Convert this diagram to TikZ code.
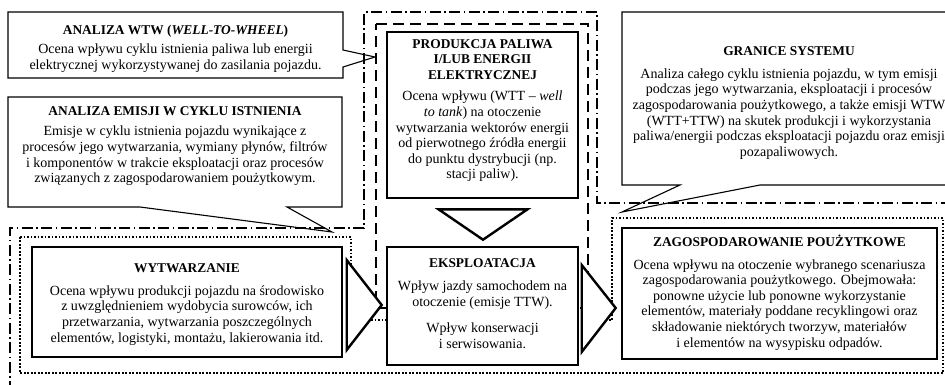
\documentclass[tikz,border=0pt]{standalone}
\usepackage{fontspec}
\setmainfont{Liberation Serif}
\usetikzlibrary{calc}

\newcommand{\bodyfont}{\fontsize{14.0}{15.6}\selectfont}
\newcommand{\ttl}[1]{{\fontsize{13.4}{15.6}\selectfont\bfseries #1}}

\tikzset{
  mainbox/.style={draw, line width=2.6pt, fill=white, inner sep=0pt},
  callout/.style={draw, line width=1.1pt, line join=miter},
  txt/.style={align=center, inner sep=0pt, font=\bodyfont},
  blockarrow/.style={draw, line width=2.4pt, fill=white, line join=miter},
  wtwline/.style={line width=1.3pt, dash pattern=on 11pt off 3.5pt on 1.5pt off 3.5pt},
  wttline/.style={line width=2.6pt, dash pattern=on 11pt off 6pt},
  lcaline/.style={line width=2.6pt, dash pattern=on 1.6pt off 1.9pt}
}

\begin{document}
\begin{tikzpicture}[x=1pt, y=-1pt]
\useasboundingbox[fill=white] (0,0) rectangle (945,384);

% system boundaries
\draw[wtwline] (10,392) -- (10,228) -- (364,228) -- (364,12) -- (597,12)
  -- (597,203) -- (952,203);
\draw[wttline] (376,24) -- (588,24) -- (588,308) -- (376,308) -- cycle;
\draw[lcaline] (20,237) -- (351,237) -- (351,320) -- (612,320) -- (612,218)
  -- (943,218) -- (943,373) -- (20,373) -- cycle;

% pointer tips of the callouts
\coordinate (wtwtip) at (375,57);
\coordinate (lcatip) at (332,232);
\coordinate (systip) at (622,212);

% callouts
\draw[callout] (8,12) -- (343,12) -- (343,50) -- (wtwtip) -- (343,67)
  -- (343,78) -- (8,78) -- cycle;
\node[txt] (wtwtext) at (175.5,48.5)
  {\ttl{ANALIZA WTW (\textit{WELL-TO-WHEEL})}\\[4pt]
   Ocena wpływu cyklu istnienia paliwa lub energii\\
   elektrycznej wykorzystywanej do zasilania pojazdu.};

\draw[callout] (8,97) -- (342,97) -- (342,207) -- (287,207) -- (lcatip)
  -- (140,207) -- (8,207) -- cycle;
\node[txt] (lcatext) at (175,146)
  {\ttl{ANALIZA EMISJI W CYKLU ISTNIENIA}\\[5pt]
   Emisje w cyklu istnienia pojazdu wynikające z\\
   procesów jego wytwarzania, wymiany płynów, filtrów\\
   i komponentów w trakcie eksploatacji oraz procesów\\
   związanych z zagospodarowaniem poużytkowym.};

% this callout runs on past the right edge of the page
\draw[callout] (622,12) -- (958,12) -- (958,185) -- (760,185) -- (systip)
  -- (680,185) -- (622,185) -- cycle;
\node[txt] (systext) at (789,103)
  {\ttl{GRANICE SYSTEMU}\\[7pt]
   Analiza całego cyklu istnienia pojazdu, w tym emisji\\
   podczas jego wytwarzania, eksploatacji i procesów\\
   zagospodarowania poużytkowego, a także emisji WTW\\
   (WTT+TTW) na skutek produkcji i wykorzystania\\
   paliwa/energii podczas eksploatacji pojazdu oraz emisji\\
   pozapaliwowych.};

% stages
\node[mainbox, minimum width=191, minimum height=166] (prod) at (482.5,115) {};
\node[txt] (prodtext) at (482.5,110.5)
  {\ttl{PRODUKCJA PALIWA}\\\ttl{I/LUB ENERGII}\\\ttl{ELEKTRYCZNEJ}\\[6pt]
   Ocena wpływu (WTT – \textit{well}\\
   \textit{to tank}) na otoczenie\\
   wytwarzania wektorów energii\\
   od pierwotnego źródła energii\\
   do punktu dystrybucji (np.\\
   stacji paliw).};

\node[mainbox, minimum width=310, minimum height=110] (wyt) at (187,302) {};
\node[txt] (wyttext) at (187,304.5)
  {\ttl{WYTWARZANIE}\\[7pt]
   Ocena wpływu produkcji pojazdu na środowisko\\
   z uwzględnieniem wydobycia surowców, ich\\
   przetwarzania, wytwarzania poszczególnych\\
   elementów, logistyki, montażu, lakierowania itd.};

\node[mainbox, minimum width=191, minimum height=118] (eks) at (482.5,306) {};
\node[txt] (ekstext) at (482.5,303.5)
  {\ttl{EKSPLOATACJA}\\[8pt]
   Wpływ jazdy samochodem na\\
   otoczenie (emisje TTW).\\[11pt]
   Wpływ konserwacji\\
   i serwisowania.};

\node[mainbox, minimum width=315, minimum height=131] (zag) at (779.5,293.5) {};
\node[txt] (zagtext) at (779.5,292.5)
  {\ttl{ZAGOSPODAROWANIE POUŻYTKOWE}\\[7pt]
   Ocena wpływu na otoczenie wybranego scenariusza\\
   zagospodarowania poużytkowego. Obejmowała:\\
   ponowne użycie lub ponowne wykorzystanie\\
   elementów, materiały poddane recyklingowi oraz\\
   składowanie niektórych tworzyw, materiałów\\
   i elementów na wysypisku odpadów.};

% block arrows between the stages
\draw[blockarrow] ($(prod.south)+(0.5,10)$) coordinate (a1) ++(-44.5,0)
  -- ($(eks.north)+(0.5,-6)$) -- ($(a1)+(44.5,0)$) -- cycle;
\draw[blockarrow] ($(eks.west)+(-4,-1)$) coordinate (a2) -- ++(-35,-45)
  -- ++(0,90) -- cycle;
\draw[blockarrow] ($(zag.west)+(-5,14.5)$) coordinate (a3) -- ++(-34,-43)
  -- ++(0,87) -- cycle;
\end{tikzpicture}
\end{document}
